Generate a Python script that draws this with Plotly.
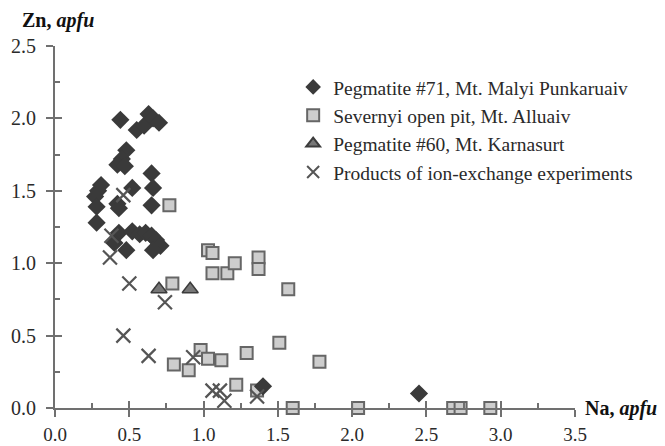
import plotly.graph_objects as go

# Pegmatite #71, Mt. Malyi Punkaruaiv
peg71_na = [0.44, 0.55, 0.60, 0.63, 0.66, 0.70, 0.48, 0.45, 0.42, 0.47, 0.65, 0.66, 0.52, 0.31, 0.29, 0.27,
            0.28, 0.42, 0.43, 0.65, 0.28, 0.43, 0.52, 0.57, 0.61, 0.65, 0.68, 0.71, 0.66, 0.48, 0.40, 1.40, 2.45]
peg71_zn = [1.99, 1.92, 1.95, 2.03, 2.00, 1.97, 1.78, 1.72, 1.68, 1.67, 1.62, 1.52, 1.52, 1.54, 1.50, 1.46,
            1.39, 1.41, 1.38, 1.40, 1.28, 1.21, 1.22, 1.20, 1.21, 1.19, 1.16, 1.12, 1.09, 1.09, 1.14, 0.15, 0.10]

# Severnyi open pit, Mt. Alluaiv
sev_na = [0.77, 1.03, 1.06, 1.06, 1.16, 1.21, 1.37, 1.37, 1.57, 0.79, 0.80, 0.90, 0.98, 1.03, 1.12, 1.29,
          1.51, 1.78, 1.22, 1.36, 1.60, 2.04, 2.68, 2.73, 2.93]
sev_zn = [1.40, 1.09, 1.07, 0.93, 0.93, 1.00, 1.04, 0.96, 0.82, 0.86, 0.30, 0.26, 0.40, 0.34, 0.33, 0.38,
          0.45, 0.32, 0.16, 0.12, 0.00, 0.00, 0.00, 0.00, 0.00]

# Pegmatite #60, Mt. Karnasurt
peg60_na = [0.70, 0.91]
peg60_zn = [0.82, 0.82]

# Products of ion-exchange experiments
ion_na = [0.46, 0.38, 0.37, 0.50, 0.74, 0.46, 0.63, 0.93, 1.06, 1.11, 1.14, 1.36]
ion_zn = [1.47, 1.19, 1.04, 0.86, 0.73, 0.50, 0.36, 0.35, 0.12, 0.12, 0.05, 0.08]

x_ticks = [0.0, 0.5, 1.0, 1.5, 2.0, 2.5, 3.0, 3.5]
y_ticks = [0.0, 0.5, 1.0, 1.5, 2.0, 2.5]

AX = "#707070"
FONT = "Liberation Serif"
TXT = "#2a2a2a"

fig = go.Figure()
fig.add_trace(go.Scatter(x=sev_na, y=sev_zn, mode="markers", name="Severnyi open pit, Mt. Alluaiv",
                         legendrank=2, cliponaxis=False,
                         marker=dict(symbol="square", size=12, color="#cdcdcd", line=dict(color="#666666", width=2))))
fig.add_trace(go.Scatter(x=peg60_na, y=peg60_zn, mode="markers", name="Pegmatite #60, Mt. Karnasurt",
                         legendrank=3, cliponaxis=False,
                         marker=dict(symbol="triangle-up", size=14, color="#777777", line=dict(color="#3c3c3c", width=1.5))))
fig.add_trace(go.Scatter(x=peg71_na, y=peg71_zn, mode="markers", name="Pegmatite #71, Mt. Malyi Punkaruaiv",
                         legendrank=1, cliponaxis=False,
                         marker=dict(symbol="diamond", size=14, color="#3a3a3a", line=dict(color="#3a3a3a", width=0))))
fig.add_trace(go.Scatter(x=ion_na, y=ion_zn, mode="markers", name="Products of ion-exchange experiments",
                         legendrank=4, cliponaxis=False,
                         marker=dict(symbol="x-thin", size=14, color="#555555", line=dict(color="#555555", width=2.2))))
# helper trace for second (overlaid) axes that draw the inner halves of major ticks
fig.add_trace(go.Scatter(x=[None], y=[None], xaxis="x2", yaxis="y2", showlegend=False, hoverinfo="skip"))

axis_common = dict(showgrid=False, zeroline=False, showline=True, linecolor=AX, linewidth=2,
                   tickcolor=AX, tickwidth=2, ticklen=7, automargin=False)

fig.update_layout(
    width=665, height=446,
    margin=dict(l=55, r=90, t=45.5, b=38),
    paper_bgcolor="white", plot_bgcolor="white",
    font=dict(family=FONT, size=20, color=TXT),
    xaxis=dict(range=[0, 3.5], tickvals=x_ticks, ticktext=[f"{v:.1f}" for v in x_ticks], ticks="outside",
               minor=dict(ticks="inside", tickvals=[0.25, 0.75, 1.25, 1.75, 2.25, 2.75, 3.25], ticklen=5,
                          tickcolor=AX, tickwidth=1.5),
               ticklabelstandoff=1,
               tickfont=dict(family=FONT, size=19, color=TXT), **axis_common),
    yaxis=dict(range=[0, 2.5], tickvals=y_ticks, ticktext=[f"{v:.1f}" for v in y_ticks], ticks="outside",
               minor=dict(ticks="inside", tickvals=[0.25, 0.75, 1.25, 1.75, 2.25], ticklen=5,
                          tickcolor=AX, tickwidth=1.5),
               ticklabelstandoff=6,
               tickfont=dict(family=FONT, size=20, color=TXT), **axis_common),
    xaxis2=dict(range=[0, 3.5], overlaying="x", tickvals=x_ticks, ticks="inside", showticklabels=False,
                anchor="y2", **axis_common),
    yaxis2=dict(range=[0, 2.5], overlaying="y", tickvals=y_ticks, ticks="inside", showticklabels=False,
                anchor="x2", **axis_common),
    legend=dict(x=0.458, y=0.94, xanchor="left", yanchor="top", bgcolor="rgba(0,0,0,0)",
                font=dict(family=FONT, size=19.5, color=TXT), tracegroupgap=8,
                itemsizing="constant"),
    showlegend=True,
)

fig.add_annotation(xref="paper", yref="paper", x=-0.067, y=1.07, xanchor="left", yanchor="middle",
                   text="<b>Zn, <i>apfu</i></b>", showarrow=False,
                   font=dict(family=FONT, size=20, color="#111111"))
fig.add_annotation(xref="paper", yref="paper", x=1.015, y=0.0, xanchor="left", yanchor="middle",
                   text="<b>Na, <i>apfu</i></b>", showarrow=False,
                   font=dict(family=FONT, size=20, color="#111111"))

fig.write_html("out.html")
